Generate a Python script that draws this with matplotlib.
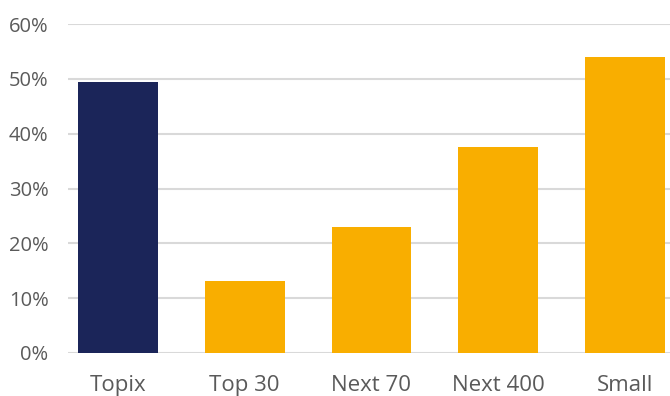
import matplotlib
matplotlib.use("Agg")
import matplotlib.pyplot as plt
from matplotlib.ticker import FuncFormatter

categories = ["Topix", "Top 30", "Next 70", "Next 400", "Small"]
values = [49.5, 13.2, 22.9, 37.5, 54.0]
colors = ["#1B2559", "#F9AE00", "#F9AE00", "#F9AE00", "#F9AE00"]
yticks = [0, 10, 20, 30, 40, 50, 60]

plt.rcParams['font.family'] = ['Open Sans', 'DejaVu Sans']

fig = plt.figure(figsize=(6.70, 3.96), dpi=100)
ax = fig.add_axes([68/670, 1-353/396, 1-68/670, (353-24)/396])

x = list(range(len(categories)))
ax.bar(x, values, width=0.63, color=colors, zorder=3)
ax.set_xlim(-0.394, 4.355)
ax.set_ylim(0, 60)
ax.set_yticks(yticks)
ax.yaxis.set_major_formatter(FuncFormatter(lambda v, p: f"{int(v)}%"))
ax.set_xticks(x)
ax.set_xticklabels(categories)
ax.grid(axis='y', color='#D9D9D9', linewidth=1.5, zorder=0)
ax.set_axisbelow(True)
for s in ax.spines.values():
    s.set_visible(False)
ax.tick_params(axis='y', length=0, pad=14, labelsize=14.5, labelcolor='#5A5A5A')
ax.tick_params(axis='x', length=0, pad=16, labelsize=16, labelcolor='#5A5A5A')

fig.savefig("out.png", dpi=100)
